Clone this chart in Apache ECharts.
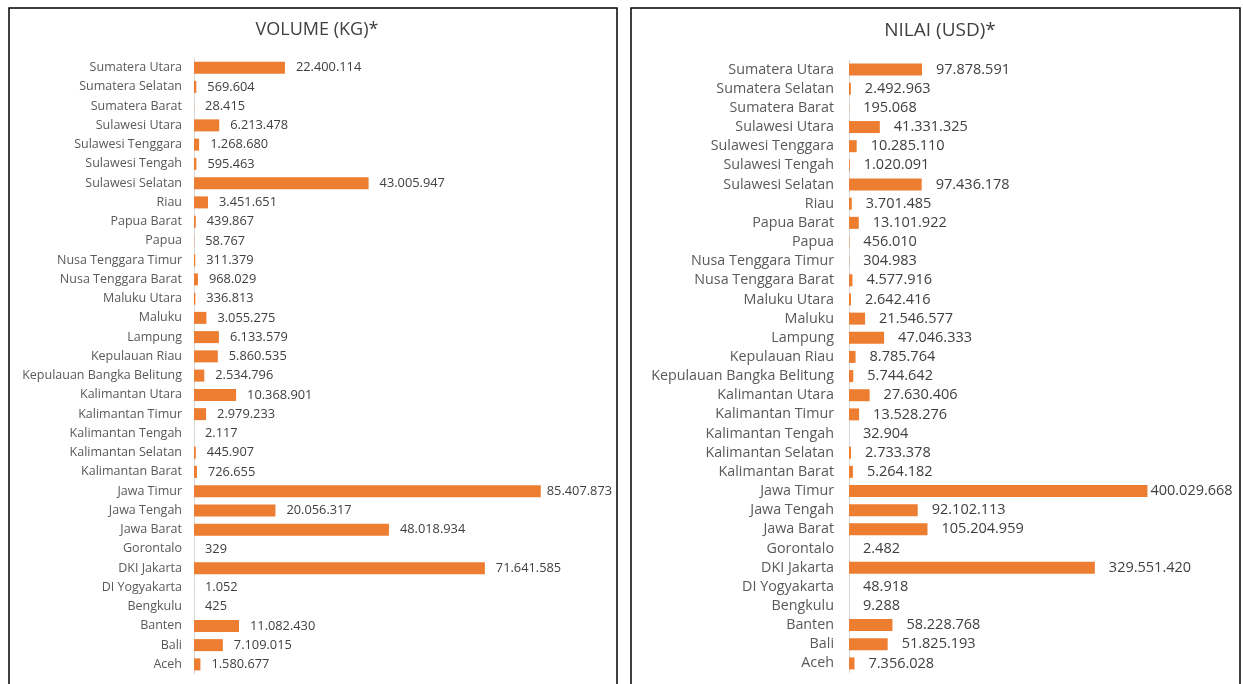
<!DOCTYPE html>
<html>
<head>
<meta charset="utf-8">
<script src="https://cdn.jsdelivr.net/npm/echarts@6/dist/echarts.min.js"></script>
<style>
  html, body { margin: 0; padding: 0; background: #fff; }
  #chart { width: 1243px; height: 684px; }
</style>
</head>
<body>
<div id="chart"></div>
<script>
// provinsi, urut dari atas ke bawah
const provinces = [
  'Sumatera Utara', 'Sumatera Selatan', 'Sumatera Barat', 'Sulawesi Utara',
  'Sulawesi Tenggara', 'Sulawesi Tengah', 'Sulawesi Selatan', 'Riau',
  'Papua Barat', 'Papua', 'Nusa Tenggara Timur', 'Nusa Tenggara Barat',
  'Maluku Utara', 'Maluku', 'Lampung', 'Kepulauan Riau',
  'Kepulauan Bangka Belitung', 'Kalimantan Utara', 'Kalimantan Timur', 'Kalimantan Tengah',
  'Kalimantan Selatan', 'Kalimantan Barat', 'Jawa Timur', 'Jawa Tengah',
  'Jawa Barat', 'Gorontalo', 'DKI Jakarta', 'DI Yogyakarta',
  'Bengkulu', 'Banten', 'Bali', 'Aceh'
];

// volume (kg)
const volumeKg = [
  22400114, 569604, 28415, 6213478,
  1268680, 595463, 43005947, 3451651,
  439867, 58767, 311379, 968029,
  336813, 3055275, 6133579, 5860535,
  2534796, 10368901, 2979233, 2117,
  445907, 726655, 85407873, 20056317,
  48018934, 329, 71641585, 1052,
  425, 11082430, 7109015, 1580677
];

// nilai (usd)
const nilaiUsd = [
  97878591, 2492963, 195068, 41331325,
  10285110, 1020091, 97436178, 3701485,
  13101922, 456010, 304983, 4577916,
  2642416, 21546577, 47046333, 8785764,
  5744642, 27630406, 13528276, 32904,
  2733378, 5264182, 400029668, 92102113,
  105204959, 2482, 329551420, 48918,
  9288, 58228768, 51825193, 7356028
];

const titles = ['VOLUME (KG)*', 'NILAI (USD)*'];

const fontFam = 'Open Sans, sans-serif';

function fmt(v) {
  return String(v).replace(/\B(?=(\d{3})+(?!\d))/g, '.');
}

// label bar terpanjang ditaruh lebih rapat (seperti di excel)
function barData(values, nearDist) {
  const mx = Math.max(...values);
  return values.map(v => v === mx ? { value: v, label: { distance: nearDist } } : v);
}

const chart = echarts.init(document.getElementById('chart'));

const option = {
  backgroundColor: '#fff',
  animation: false,
  title: [
    {
      text: titles[0], left: 312, top: 16, textAlign: 'center',
      textStyle: { fontFamily: fontFam, fontSize: 18, fontWeight: 'normal', color: '#404040' }
    },
    {
      text: titles[1], left: 935, top: 16, textAlign: 'center',
      textStyle: { fontFamily: fontFam, fontSize: 19, fontWeight: 'normal', color: '#404040' }
    }
  ],
  graphic: [
    { type: 'rect', shape: { x: 9, y: 8, width: 608, height: 690 },
      style: { fill: 'none', stroke: '#000', lineWidth: 1.5 } },
    { type: 'rect', shape: { x: 631, y: 8, width: 609, height: 690 },
      style: { fill: 'none', stroke: '#000', lineWidth: 1.5 } }
  ],
  grid: [
    { left: 194, width: 406, top: 58, bottom: 10 },
    { left: 849, width: 373, top: 60, bottom: 11 }
  ],
  xAxis: [
    { gridIndex: 0, type: 'value', min: 0, max: 100000000, show: false, splitLine: { show: false } },
    { gridIndex: 1, type: 'value', min: 0, max: 500000000, show: false, splitLine: { show: false } }
  ],
  yAxis: [
    {
      gridIndex: 0, type: 'category', data: provinces, inverse: true,
      axisLine: { lineStyle: { color: '#d9d9d9' } },
      axisTick: { show: false },
      axisLabel: { fontFamily: fontFam, fontSize: 12.5, color: '#595959', margin: 12 }
    },
    {
      gridIndex: 1, type: 'category', data: provinces, inverse: true,
      axisLine: { lineStyle: { color: '#d9d9d9' } },
      axisTick: { show: false },
      axisLabel: { fontFamily: fontFam, fontSize: 14.3, color: '#595959', margin: 15 }
    }
  ],
  series: [
    {
      type: 'bar', xAxisIndex: 0, yAxisIndex: 0, data: barData(volumeKg, 6),
      barWidth: 12,
      itemStyle: { color: '#ED7D31' },
      label: {
        show: true, position: 'right', distance: 11,
        fontFamily: fontFam, fontSize: 12.8, color: '#404040',
        formatter: p => fmt(p.value)
      }
    },
    {
      type: 'bar', xAxisIndex: 1, yAxisIndex: 1, data: barData(nilaiUsd, 3),
      barWidth: 12,
      itemStyle: { color: '#ED7D31' },
      label: {
        show: true, position: 'right', distance: 14,
        fontFamily: fontFam, fontSize: 14.5, color: '#404040',
        formatter: p => fmt(p.value)
      }
    }
  ]
};

chart.setOption(option);
</script>
</body>
</html>
